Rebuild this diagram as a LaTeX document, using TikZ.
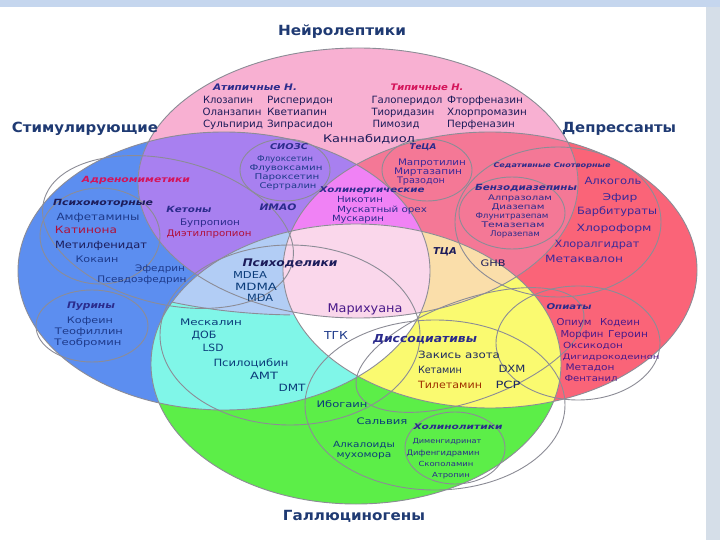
\documentclass[tikz,border=0pt]{standalone}
\usepackage{fontspec}
\setmainfont{DejaVu Sans}
\usepackage{graphicx}
\definecolor{cBlue}{HTML}{5C8EF0}
\definecolor{cPurple}{HTML}{A880F0}
\definecolor{cPink}{HTML}{F8B0D2}
\definecolor{cRed}{HTML}{FA6478}
\definecolor{cRedPink}{HTML}{F47896}
\definecolor{cMagenta}{HTML}{F082F5}
\definecolor{cLtPink}{HTML}{FAD7EB}
\definecolor{cPeach}{HTML}{FADEAA}
\definecolor{cLtBlue}{HTML}{B2CDF5}
\definecolor{cCyan}{HTML}{80F6E8}
\definecolor{cYellow}{HTML}{FAFA70}
\definecolor{cGreen}{HTML}{5CEE48}
\definecolor{cLine}{HTML}{8C8C96}
\definecolor{cTitle}{HTML}{1F3A73}
\definecolor{cHdr}{HTML}{2B2B8C}
\definecolor{cCrimson}{HTML}{D4145A}
\definecolor{cDkRed}{HTML}{B0103A}
\definecolor{cOrange}{HTML}{A03000}
\definecolor{cNavy}{HTML}{1C1C5A}
\definecolor{cBlueTx}{HTML}{1E3A8A}
\definecolor{cVio}{HTML}{3A2A9A}
\definecolor{cOpi}{HTML}{4A1A8A}
\definecolor{cTeal}{HTML}{0B3C7A}
\definecolor{cDark}{HTML}{1E2A60}
\definecolor{cBand}{HTML}{C5D6EE}
\definecolor{cSide}{HTML}{D5DEE8}
% name, x, y, width, colour, size, text
\newcommand\lb[7]{\node[lab,yshift={-0.36*#6},text=#5] (#1) at (#2,#3) {\resizebox{#4pt}{\height}{\fontsize{#6}{#6}\selectfont #7}};}
\newcommand\hd[7]{\node[lab,yshift={-0.36*#6},text=#5] (#1) at (#2,#3) {\resizebox{#4pt}{\height}{\fontsize{#6}{#6}\selectfont\bfseries\itshape #7}};}
\newcommand\ti[5]{\node[lab,yshift=-5pt,text=cTitle] (#1) at (#2,#3) {\resizebox{#4pt}{\height}{\fontsize{14}{14}\selectfont\bfseries #5}};}
\begin{document}
\begin{tikzpicture}[x=1pt,y=-1pt,
  lab/.style={inner sep=0pt, anchor=base},
  outl/.style={draw=cLine, line width=0.9pt},
  PP/.style={insert path={(358,183) ellipse [x radius=220pt, y radius=135pt]}},
  BB/.style={insert path={(224,271) ellipse [x radius=206pt, y radius=139pt]}},
  RR/.style={insert path={(490,270) ellipse [x radius=207pt, y radius=138pt]}},
  GG/.style={insert path={(356,364) ellipse [x radius=205pt, y radius=140pt]}},
  XX/.style={insert path={(300,180) ellipse [x radius=300pt, y radius=135pt]}}]
\useasboundingbox (0,0) rectangle (720,540);
\fill[white] (0,0) rectangle (720,540);
\fill[cBand] (0,0) rectangle (720,7);
\fill[cSide] (706,7) rectangle (720,540);
% big regions
\fill[cBlue, BB];
\fill[cRed, RR];
\fill[cPink, PP];
\fill[cGreen, GG];
\begin{scope}\clip[PP]; \fill[cPurple, BB]; \end{scope}
\begin{scope}\clip[PP]; \fill[cRedPink, RR]; \end{scope}
\begin{scope}\clip[PP]; \clip[BB]; \fill[cMagenta, RR]; \end{scope}
\begin{scope}\clip[BB]; \fill[cCyan, GG]; \end{scope}
\begin{scope}\clip[RR]; \fill[cYellow, GG]; \end{scope}
\begin{scope}\clip[XX]; \clip[BB]; \fill[cLtBlue, GG]; \end{scope}
\begin{scope}\clip[BB]; \clip[RR]; \fill[white, GG]; \end{scope}
\begin{scope}\clip[PP]; \clip[RR]; \fill[cPeach, GG]; \end{scope}
\begin{scope}\clip[PP]; \clip[BB]; \clip[RR]; \fill[cLtPink, GG]; \end{scope}
% outlines of big regions
\path[outl, BB]; \path[outl, RR]; \path[outl, PP]; \path[outl, GG];
\begin{scope}\clip (150,250) rectangle (290,330); \clip[BB]; \clip[GG]; \path[outl, XX]; \end{scope}
% sub-groups
\draw[outl, rotate around={-14:(168,232)}] (168,232) ellipse [x radius=128pt, y radius=72pt];
\draw[outl] (100,236) ellipse [x radius=60pt, y radius=48pt];
\draw[outl] (92,326) ellipse [x radius=56pt, y radius=36pt];
\draw[outl] (285,170) ellipse [x radius=45pt, y radius=31pt];
\draw[outl] (427,170) ellipse [x radius=45pt, y radius=31pt];
\draw[outl] (558,222) ellipse [x radius=103pt, y radius=75pt];
\draw[outl] (512,213) ellipse [x radius=53pt, y radius=36pt];
\draw[outl] (578,343) ellipse [x radius=82pt, y radius=57pt];
\draw[outl] (290,335) ellipse [x radius=130pt, y radius=90pt];
\draw[outl] (435,405) ellipse [x radius=130pt, y radius=85pt];
\draw[outl] (455,448) ellipse [x radius=50pt, y radius=36pt];
\draw[outl, rotate around={20:(470,350)}] (470,350) ellipse [x radius=120pt, y radius=50pt];
% titles
\ti{tN}{342}{31}{128}{Нейролептики}
\ti{tS}{85}{128}{146}{Стимулирующие}
\ti{tD}{619}{128}{114}{Депрессанты}
\ti{tG}{354}{515}{142}{Галлюциногены}
% neuroleptics
\hd{hA}{255}{87}{84}{cHdr}{9}{Атипичные Н.}
\hd{hT}{427}{87}{73}{cCrimson}{9}{Типичные Н.}
\lb{n1}{228}{100}{50}{cNavy}{10}{Клозапин}
\lb{n2}{300}{100}{66}{cNavy}{10}{Рисперидон}
\lb{n3}{232}{112}{59}{cNavy}{10}{Оланзапин}
\lb{n4}{297}{112}{60}{cNavy}{10}{Кветиапин}
\lb{n5}{233}{124}{60}{cNavy}{10}{Сульпирид}
\lb{n6}{300}{124}{66}{cNavy}{10}{Зипрасидон}
\lb{n7}{407}{100}{71}{cNavy}{10}{Галоперидол}
\lb{n8}{485}{100}{76}{cNavy}{10}{Фторфеназин}
\lb{n9}{403}{112}{63}{cNavy}{10}{Тиоридазин}
\lb{n10}{487}{112}{80}{cNavy}{10}{Хлорпромазин}
\lb{n11}{396}{124}{47}{cNavy}{10}{Пимозид}
\lb{n12}{481}{124}{68}{cNavy}{10}{Перфеназин}
\lb{n13}{369}{139}{92}{cNavy}{10.5}{Каннабидиол}
% SSRI / TeCA
\hd{hS}{289}{147}{38}{cHdr}{8}{СИОЗС}
\lb{s1}{285}{159}{56}{cBlueTx}{8}{Флуоксетин}
\lb{s2}{286}{168}{73}{cBlueTx}{8}{Флувоксамин}
\lb{s3}{287}{177}{65}{cBlueTx}{8}{Пароксетин}
\lb{s4}{288}{186}{57}{cBlueTx}{8}{Сертралин}
\hd{hTe}{423}{147}{27}{cHdr}{8}{ТеЦА}
\lb{te1}{432}{162}{68}{cVio}{9}{Мапротилин}
\lb{te2}{428}{171}{68}{cVio}{9}{Миртазапин}
\lb{te3}{421}{180}{48}{cVio}{9}{Тразодон}
% cholinergics, MAOI
\hd{hC}{372}{190}{105}{cHdr}{8}{Холинергические}
\lb{c1}{360}{199}{46}{cHdr}{8.5}{Никотин}
\lb{c2}{382}{209}{90}{cHdr}{8.5}{Мускатный орех}
\lb{c3}{358}{218}{52}{cHdr}{8.5}{Мускарин}
\hd{hM}{278}{207}{37}{cHdr}{9}{ИМАО}
% stimulants
\hd{hAd}{136}{179}{108}{cCrimson}{8.5}{Адреномиметики}
\hd{hPs}{103}{202}{100}{cNavy}{8.5}{Психомоторные}
\lb{p1}{98}{217}{83}{cBlueTx}{10}{Амфетамины}
\lb{p2}{86}{230}{62}{cDkRed}{10}{Катинона}
\lb{p3}{101}{245}{92}{cNavy}{10}{Метилфенидат}
\lb{p4}{97}{259}{43}{cBlueTx}{9}{Кокаин}
\lb{e1}{160}{268}{50}{cBlueTx}{9}{Эфедрин}
\lb{e2}{142}{279}{89}{cBlueTx}{9}{Псевдоэфедрин}
\hd{hK}{189}{209}{45}{cHdr}{8.5}{Кетоны}
\lb{k1}{210}{222}{60}{cHdr}{9}{Бупропион}
\lb{k2}{209}{233}{85}{cDkRed}{9}{Диэтилпропион}
\hd{hPu}{91}{305}{48}{cHdr}{9}{Пурины}
\lb{u1}{90}{320}{46}{cBlueTx}{9}{Кофеин}
\lb{u2}{89}{331}{68}{cBlueTx}{9}{Теофиллин}
\lb{u3}{88}{342}{67}{cBlueTx}{9}{Теобромин}
% psychedelics
\hd{hPd}{290}{263}{95}{cNavy}{10.5}{Психоделики}
\lb{d1}{250}{275}{34}{cTeal}{9.5}{MDEA}
\lb{d2}{256}{287}{42}{cTeal}{10}{MDMA}
\lb{d3}{260}{298}{26}{cTeal}{10}{MDA}
\lb{d4}{211}{322}{62}{cTeal}{9}{Мескалин}
\lb{d5}{204}{335}{25}{cTeal}{10}{ДОБ}
\lb{d6}{213}{348}{21}{cTeal}{10}{LSD}
\lb{d7}{251}{363}{75}{cTeal}{10}{Псилоцибин}
\lb{d8}{264}{376}{28}{cTeal}{10}{AMT}
\lb{d9}{292}{388}{27}{cTeal}{10}{DMT}
\lb{m1}{365}{308}{75}{cOpi}{12}{Марихуана}
\lb{m2}{336}{336}{24}{cBlueTx}{11}{ТГК}
% dissociatives
\hd{hDi}{425}{339}{104}{cHdr}{11}{Диссоциативы}
\lb{x1}{459}{355}{82}{cDark}{10}{Закись азота}
\lb{x2}{440}{370}{44}{cDark}{10}{Кетамин}
\lb{x3}{512}{369}{27}{cDark}{10}{DXM}
\lb{x4}{450}{385}{64}{cOrange}{10}{Тилетамин}
\lb{x5}{508}{385}{25}{cDark}{10}{PCP}
% depressants
\hd{hTc}{445}{251}{24}{cNavy}{9.5}{ТЦА}
\lb{g1}{493}{263}{25}{cNavy}{9}{GHB}
\hd{hSe}{552}{165}{117}{cHdr}{6.5}{Седативные Снотворные}
\hd{hBz}{526}{187}{102}{cHdr}{8.5}{Бензодиазепины}
\lb{b1}{520}{198}{64}{cHdr}{7.8}{Алпразолам}
\lb{b2}{518}{207}{53}{cHdr}{7.8}{Диазепам}
\lb{b3}{512}{216}{73}{cHdr}{7.8}{Флунитразепам}
\lb{b4}{513}{225}{63}{cHdr}{7.8}{Темазепам}
\lb{b5}{515}{234}{50}{cHdr}{7.8}{Лоразепам}
\lb{a1}{613}{181}{57}{cVio}{10}{Алкоголь}
\lb{a2}{620}{197}{35}{cVio}{9.5}{Эфир}
\lb{a3}{617}{211}{80}{cVio}{10}{Барбитураты}
\lb{a4}{614}{228}{75}{cVio}{10}{Хлороформ}
\lb{a5}{597}{244}{85}{cVio}{10}{Хлоралгидрат}
\lb{a6}{584}{259}{78}{cVio}{10}{Метаквалон}
\hd{hO}{569}{307}{45}{cHdr}{8}{Опиаты}
\lb{o1}{574}{322}{35}{cOpi}{9.5}{Опиум}
\lb{o2}{620}{322}{40}{cOpi}{9.5}{Кодеин}
\lb{o3}{582}{334}{43}{cOpi}{9.5}{Морфин}
\lb{o4}{628}{334}{40}{cOpi}{9.5}{Героин}
\lb{o5}{593}{345}{60}{cOpi}{8.5}{Оксикодон}
\lb{o6}{611}{357}{97}{cOpi}{7.5}{Дигидрокодеинон}
\lb{o7}{590}{367}{49}{cOpi}{9}{Метадон}
\lb{o8}{591}{378}{53}{cOpi}{8.5}{Фентанил}
% deliriants
\lb{r1}{342}{404}{51}{cTeal}{9}{Ибогаин}
\lb{r2}{382}{421}{51}{cTeal}{9}{Сальвия}
\hd{hHo}{458}{427}{89}{cHdr}{7.8}{Холинолитики}
\lb{r3}{364}{444}{62}{cTeal}{8.5}{Алкалоиды}
\lb{r4}{364}{454}{55}{cTeal}{8.5}{мухомора}
\lb{r5}{447}{441}{69}{cHdr}{7}{Дименгидринат}
\lb{r6}{443}{453}{73}{cHdr}{7.5}{Дифенгидрамин}
\lb{r7}{446}{464}{55}{cHdr}{7}{Скополамин}
\lb{r8}{451}{475}{38}{cHdr}{7}{Атропин}
\end{tikzpicture}
\end{document}
